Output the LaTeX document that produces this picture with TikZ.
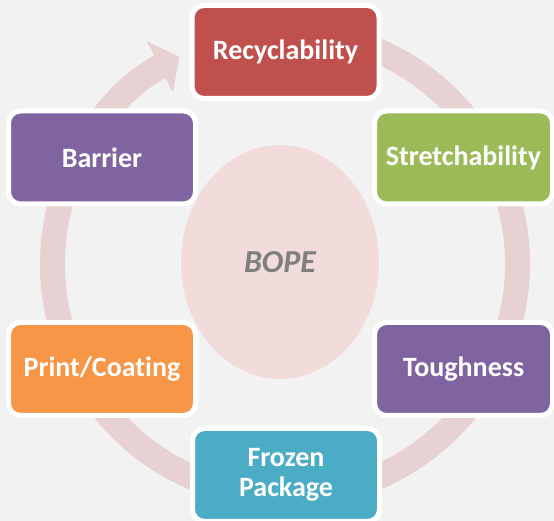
\documentclass[tikz,border=0pt]{standalone}
\usepackage{fontspec}
\setmainfont[Ligatures=NoCommon]{Carlito}
\usetikzlibrary{arrows.meta,shapes.geometric}

\definecolor{backgray}{HTML}{F2F2F2}
\definecolor{ringpink}{HTML}{E8D1D2}
\definecolor{corepink}{HTML}{F2DCDB}
\definecolor{coregray}{HTML}{7F7F7F}
\definecolor{recred}{HTML}{C0504D}
\definecolor{strgreen}{HTML}{9BBB59}
\definecolor{barpurple}{HTML}{8064A2}
\definecolor{prtorange}{HTML}{F79646}
\definecolor{frzblue}{HTML}{4BACC6}

\begin{document}
\begin{tikzpicture}[%
      x=1pt, y=1pt,
      cell/.style={draw=white, line width=5pt, rounded corners=12pt,
        text=white, align=center, inner sep=0pt,
        minimum width=187pt, minimum height=93pt,
        font=\fontsize{28}{30}\selectfont\bfseries},
      ]
      \useasboundingbox (0,0) rectangle (554,521);
      \fill [color=backgray] (0,0) rectangle (554,521);

      % the cycle arrow runs behind all boxes
      \coordinate (hub) at (285,257);
      \draw [color=ringpink, line width=25pt, -{Triangle[width=56pt,length=22pt]}]
        ([shift={(80:232.5)}]hub) arc [start angle=80, end angle=-243, radius=232.5];

      \node [ellipse, fill=corepink, minimum width=198pt, minimum height=234pt,
        text=coregray, font=\fontsize{32}{34}\selectfont\bfseries\itshape]
        (core) at (280,259) {BOPE};

      \node [cell, fill=recred] (recycle) at (285.5,469) {Recyclability};
      \node [cell, fill=strgreen, minimum width=178pt] (stretch) at (463.5,363.5) {Stretchability};
      \node [cell, fill=barpurple, minimum width=178pt] (tough) at (463.5,152) {Toughness};
      \node [cell, fill=frzblue] (frozen) at (286,46) {Frozen\\Package};
      \node [cell, fill=prtorange] (print) at (102,152) {Print/Coating};
      \node [cell, fill=barpurple] (barrier) at (102,363.5) {Barrier};
\end{tikzpicture}
\end{document}
